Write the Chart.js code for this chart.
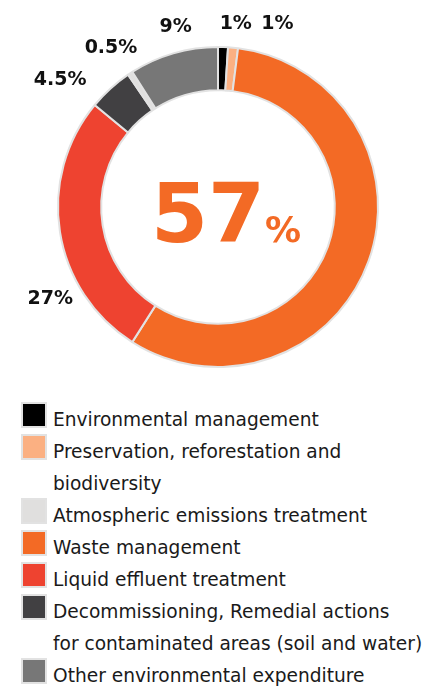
<!DOCTYPE html>
<html>
<head>
<meta charset="utf-8">
<script src="https://cdn.jsdelivr.net/npm/chart.js@4.4.1/dist/chart.umd.min.js"></script>
<style>
  html, body { margin: 0; padding: 0; background: #ffffff; }
  #wrap { position: relative; width: 424px; height: 691px; overflow: hidden; }
  #ring { position: absolute; left: 0; top: 0; }
  #legend { position: absolute; left: 0; top: 404px; width: 424px;
            font-family: "DejaVu Sans", sans-serif; font-size: 18.6px; color: #1a1a1a; }
  .item { position: relative; padding-left: 53px; line-height: 32px; white-space: nowrap; }
  .swatch { position: absolute; left: 21px; top: -2px; width: 26px; height: 26px;
            box-sizing: border-box; border: 2px solid #e2e2e2; }
</style>
</head>
<body>
<div id="wrap">
  <canvas id="ring" width="424" height="400"></canvas>
  <div id="legend"></div>
</div>
<script>
// Environmental expenditure breakdown (share of total, %)
const categories = [
  ["Environmental management"],
  ["Preservation, reforestation and", "biodiversity"],
  ["Atmospheric emissions treatment"],
  ["Waste management"],
  ["Liquid effluent treatment"],
  ["Decommissioning, Remedial actions", "for contaminated areas (soil and water)"],
  ["Other environmental expenditure"]
];
const shares = [1, 1, 0.5, 57, 27, 4.5, 9];
const colors = ["#000000", "#fbb082", "#e0dfde", "#f36a25", "#ee4330", "#414042", "#777777"];

// order in which the categories run clockwise round the ring, from 12 o'clock
const ringOrder = [0, 1, 3, 4, 5, 2, 6];

// small shifts for the outer percentage labels (px), by category
const labelShift = [[12, 1], [42, 0], [-6, -5], null, [14, 63], [-34, 9], [9, -3]];

// legend
const legend = document.getElementById("legend");
categories.forEach((lines, i) => {
  const item = document.createElement("div");
  item.className = "item";
  const sw = document.createElement("span");
  sw.className = "swatch";
  sw.style.background = colors[i];
  item.appendChild(sw);
  item.appendChild(document.createTextNode(lines[0]));
  legend.appendChild(item);
  lines.slice(1).forEach(l => {
    const extra = document.createElement("div");
    extra.className = "item";
    extra.textContent = l;
    legend.appendChild(extra);
  });
});

const fmt = v => v + "%";
const leadIndex = shares.indexOf(Math.max(...shares));

// outer percentage labels and the large central figure
const ringLabels = {
  id: "ringLabels",
  afterDatasetsDraw(chart) {
    const ctx = chart.ctx;
    const meta = chart.getDatasetMeta(0);
    ctx.save();
    meta.data.forEach((arc, k) => {
      const cat = ringOrder[k];
      const p = arc.getProps(["x", "y", "startAngle", "endAngle", "outerRadius"], true);
      if (cat === leadIndex) {
        // central figure for the largest share
        ctx.fillStyle = colors[cat];
        ctx.textBaseline = "alphabetic";
        ctx.textAlign = "left";
        ctx.font = "bold 82px 'DejaVu Sans'";
        const num = String(shares[cat]);
        const x0 = p.x - 67;
        const y0 = p.y + 35;
        ctx.fillText(num, x0, y0);
        const w = ctx.measureText(num).width;
        ctx.font = "bold 36px 'DejaVu Sans'";
        ctx.fillText("%", x0 + w, y0);
        return;
      }
      const mid = (p.startAngle + p.endAngle) / 2;
      const r = p.outerRadius + 24;
      const s = labelShift[cat] || [0, 0];
      const x = p.x + Math.cos(mid) * r + s[0];
      const y = p.y + Math.sin(mid) * r + s[1];
      ctx.fillStyle = "#111111";
      ctx.font = "bold 19px 'DejaVu Sans'";
      ctx.textAlign = "center";
      ctx.textBaseline = "middle";
      ctx.fillText(fmt(shares[cat]), x, y);
    });
    ctx.restore();
  }
};

new Chart(document.getElementById("ring"), {
  type: "doughnut",
  data: {
    labels: ringOrder.map(i => categories[i].join(" ")),
    datasets: [{
      data: ringOrder.map(i => shares[i]),
      backgroundColor: ringOrder.map(i => colors[i]),
      borderColor: "#e2e2e2",
      borderWidth: 2
    }]
  },
  options: {
    responsive: false,
    animation: false,
    cutout: "73%",
    layout: { padding: { left: 57, right: 45, top: 46, bottom: 32 } },
    plugins: { legend: { display: false }, tooltip: { enabled: false } }
  },
  plugins: [ringLabels]
});
</script>
</body>
</html>
